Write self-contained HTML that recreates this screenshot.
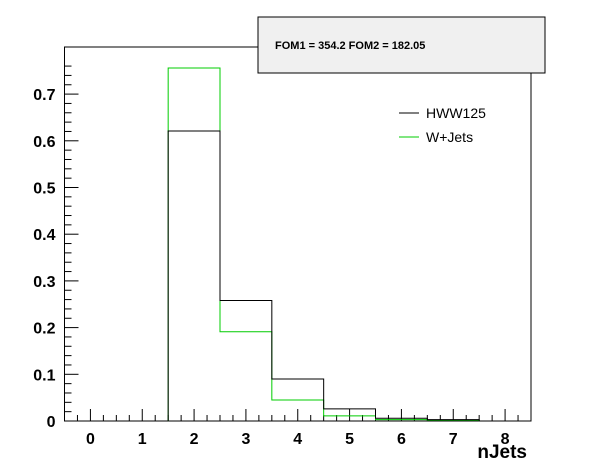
<!DOCTYPE html>
<html><head><meta charset="utf-8"><style>
body{margin:0;background:#fff;}
svg{display:block;font-family:"Liberation Sans",Arial,sans-serif;}
</style></head><body>
<svg id="c" width="596" height="472"></svg>
<script>
const categories=[0,1,2,3,4,5,6,7,8];
const hwwValues=[0,0,0.621,0.258,0.090,0.026,0.006,0.003,0];
const wjetsValues=[0,0,0.756,0.191,0.045,0.011,0.003,0.002,0];
const yTicks=[0,0.1,0.2,0.3,0.4,0.5,0.6,0.7];
const yTickLabels=["0","0.1","0.2","0.3","0.4","0.5","0.6","0.7"];
const L=64.5,R=531,T=47,B=421;
const xs=v=>L+(v+0.5)*(R-L)/9;
const ys=v=>B-v*467;
const svg=document.getElementById('c');
const NS='http://www.w3.org/2000/svg';
function mk(t,a,p){const e=document.createElementNS(NS,t);for(const k in a)e.setAttribute(k,a[k]);(p||svg).appendChild(e);return e;}
let f=mk('rect',{x:L,y:T,width:R-L,height:B-T,fill:'none',stroke:'#000','stroke-width':1});


for(let i=0;i<=38;i++){const v=i*0.02;const y=ys(v);if(y<T)break;const major=i%5===0;
 mk('line',{x1:L,x2:L+(major?14:7),y1:y,y2:y,stroke:'#000'});}
yTicks.forEach((v,i)=>{const t=mk('text',{x:L-9,y:ys(v)+6,'text-anchor':'end','font-size':16,'font-weight':'bold'});t.textContent=yTickLabels[i];
 
 });
for(let v=-0.5;v<=8.5001;v+=0.25){const x=xs(v);const major=Math.abs(v-Math.round(v))<1e-6;
 mk('line',{x1:x,x2:x,y1:B,y2:B-(major?12:6),stroke:'#000'});}
categories.forEach(c=>{const t=mk('text',{x:xs(c),y:B+23,'text-anchor':'middle','font-size':16,'font-weight':'bold'});t.textContent=c;
 
 });
let xt=mk('text',{x:R-4,y:B+37,'text-anchor':'end','font-size':19,'font-weight':'bold'});xt.textContent='nJets';


function hist(vals,color,name){let d='';vals.forEach((v,i)=>{const x0=xs(categories[i]-0.5),x1=xs(categories[i]+0.5),y=ys(v);
 d+=(i===0?'M'+x0+','+y:'L'+x0+','+y)+' L'+x1+','+y+' ';});
 const p=mk('path',{d:d,fill:'none',stroke:color,'stroke-width':1});
 
 }
hist(wjetsValues,'#00cc00','wjets-histogram');
hist(hwwValues,'#000','hww125-histogram');
let fb=mk('g',{});


mk('rect',{x:258,y:17,width:287,height:56,fill:'#f0f0f0',stroke:'#000'},fb);
let ft=mk('text',{x:275,y:49,'font-size':11,'font-weight':'bold'},fb);ft.textContent='FOM1 = 354.2 FOM2 = 182.05';
let lg=mk('g',{});


mk('line',{x1:399,x2:419,y1:113,y2:113,stroke:'#000'},lg);
let l1=mk('text',{x:426,y:118,'font-size':14},lg);l1.textContent='HWW125';
mk('line',{x1:399,x2:419,y1:137,y2:137,stroke:'#00cc00'},lg);
let l2=mk('text',{x:426,y:142,'font-size':14},lg);l2.textContent='W+Jets';
</script>
</body></html>
